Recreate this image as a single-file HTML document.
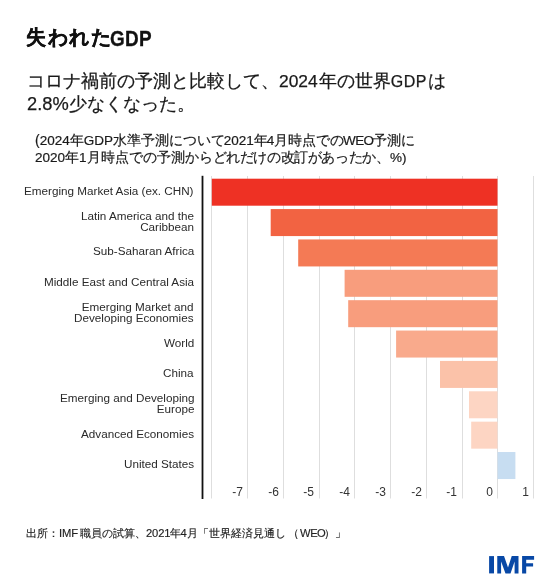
<!DOCTYPE html>
<html lang="ja">
<head>
<meta charset="utf-8">
<style>
html,body{margin:0;padding:0;background:#fff;}
body{width:560px;height:583px;position:relative;overflow:hidden;font-family:"Liberation Sans",sans-serif;color:#1a1a1a;}
.t{position:absolute;white-space:nowrap;will-change:transform;}
#title{left:26px;top:23px;font-size:20px;font-weight:bold;line-height:28px;color:#111;}
#title .j{letter-spacing:1.5px;-webkit-text-stroke:0.35px #111;}
#title .g{font-size:22px;display:inline-block;position:relative;top:1.5px;letter-spacing:0.3px;margin-left:-2px;transform:scaleX(0.86);transform-origin:0 50%;-webkit-text-stroke:0.3px #111}
#sub{left:27px;top:71px;font-size:18px;line-height:21.5px;color:#1a1a1a;-webkit-text-stroke:0.25px #1a1a1a;}
#sub .n1{font-size:17.4px;margin-right:1px}
#sub .n2{font-size:16px;letter-spacing:0.5px;margin-right:1.5px}
#sub .n3{font-size:18.3px;}
#note{left:35px;top:131.5px;font-size:14px;line-height:17.4px;color:#1a1a1a;-webkit-text-stroke:0.2px #1a1a1a;}
#note .l{font-size:13.5px}
#note .m{margin-left:-1.2px}
#note .p{margin-left:0.5px}
.lab{position:absolute;will-change:transform;right:366px;text-align:right;font-size:11.7px;line-height:11.3px;margin-top:-1.3px;color:#2a2a2a;white-space:nowrap;}
.tick{position:absolute;will-change:transform;font-size:12px;line-height:14px;color:#333;text-align:right;width:30px;}
#src{left:26px;top:525px;font-size:11.25px;line-height:16px;color:#222;-webkit-text-stroke:0.15px #222;}
#src .l{font-size:11.2px;letter-spacing:-0.1px}
</style>
</head>
<body>
<div class="t" id="title"><span class="j">失われた</span><span class="g">GDP</span></div>
<div class="t" id="sub">コロナ禍前の予測と比較して、<span class="n1">2024</span>年の世界<span class="n2">GDP</span>は<br><span class="n3">2.8%</span>少なくなった。</div>
<div class="t" id="note">(<span class="l">2024</span>年<span class="l">GDP</span>水準予測について<span class="l m">2021</span>年<span class="l m">4</span>月時点での<span class="l m" style="letter-spacing:-0.6px">WEO</span>予測に<br><span class="l">2020</span>年<span class="l">1</span>月時点での予測から<span style="letter-spacing:-0.4px">どれだけの改訂があったか、</span><span class="l p">%)</span></div>

<svg width="560" height="583" style="position:absolute;left:0;top:0">
  <g stroke="#dedede" stroke-width="1">
    <line x1="211.5" y1="176" x2="211.5" y2="498.5"/>
    <line x1="247.5" y1="176" x2="247.5" y2="498.5"/>
    <line x1="283.5" y1="176" x2="283.5" y2="498.5"/>
    <line x1="319.5" y1="176" x2="319.5" y2="498.5"/>
    <line x1="354.5" y1="176" x2="354.5" y2="498.5"/>
    <line x1="390.5" y1="176" x2="390.5" y2="498.5"/>
    <line x1="426.5" y1="176" x2="426.5" y2="498.5"/>
    <line x1="462.5" y1="176" x2="462.5" y2="498.5"/>
    <line x1="497.5" y1="176" x2="497.5" y2="498.5"/>
    <line x1="533.5" y1="176" x2="533.5" y2="498.5"/>
  </g>
  <rect x="211.8" y="178.7" width="285.7" height="27" fill="#ee3124"/>
  <rect x="270.7" y="209.07" width="226.8" height="27" fill="#f26342"/>
  <rect x="298.2" y="239.44" width="199.3" height="27" fill="#f47a55"/>
  <rect x="344.6" y="269.81" width="152.9" height="27" fill="#f89d7d"/>
  <rect x="348.2" y="300.18" width="149.3" height="27" fill="#f89d7d"/>
  <rect x="396.1" y="330.55" width="101.4" height="27" fill="#f9aa8c"/>
  <rect x="440" y="360.92" width="57.5" height="27" fill="#fbc2a9"/>
  <rect x="469" y="391.29" width="28.5" height="27" fill="#fdd5c3"/>
  <rect x="471.2" y="421.66" width="26.3" height="27" fill="#fdd5c3"/>
  <rect x="497.5" y="452.03" width="17.9" height="27" fill="#c7ddf1"/>
  <rect x="201.6" y="175.8" width="1.8" height="323.2" fill="#111"/>
  <g fill="#0848a6">
    <rect x="489.1" y="556.1" width="4.9" height="17.3"/>
    <polygon points="497.25,573.4 497.25,556.1 504,556.1 508,567.6 511.75,556.1 518.5,556.1 518.5,573.4 514.6,573.4 514.6,561.5 510.5,573.4 505.5,573.4 501.1,561.5 501.1,573.4"/>
    <polygon points="522.1,573.4 522.1,556.1 534.1,556.1 534.1,559.7 526.2,559.7 526.2,563.2 533.1,563.2 533.1,566.6 526.2,566.6 526.2,573.4"/>
  </g>
</svg>

<div class="lab" style="top:186px">Emerging Market Asia (ex. CHN)</div>
<div class="lab" style="top:211px">Latin America and the<br>Caribbean</div>
<div class="lab" style="top:246px">Sub-Saharan Africa</div>
<div class="lab" style="top:277px">Middle East and Central Asia</div>
<div class="lab" style="top:302px">Emerging Market and<br>Developing Economies</div>
<div class="lab" style="top:338px">World</div>
<div class="lab" style="top:368px">China</div>
<div class="lab" style="top:393px">Emerging and Developing<br>Europe</div>
<div class="lab" style="top:429px">Advanced Economies</div>
<div class="lab" style="top:459px">United States</div>

<div class="tick" style="left:213px;top:485.3px">-7</div>
<div class="tick" style="left:248.5px;top:485.3px">-6</div>
<div class="tick" style="left:284px;top:485.3px">-5</div>
<div class="tick" style="left:320px;top:485.3px">-4</div>
<div class="tick" style="left:356px;top:485.3px">-3</div>
<div class="tick" style="left:391.5px;top:485.3px">-2</div>
<div class="tick" style="left:427px;top:485.3px">-1</div>
<div class="tick" style="left:463px;top:485.3px">0</div>
<div class="tick" style="left:499px;top:485.3px">1</div>

<div class="t" id="src">出所：<span class="l" style="margin-right:2px">IMF</span>職員の試算、<span class="l">2021</span>年<span class="l" style="margin-left:-1px;margin-right:0.5px">4</span>月「世界経済見通し<span style="margin-left:2px">（</span><span class="l" style="margin-left:1px;letter-spacing:-0.5px;margin-right:-1px">WEO</span>）」</div>
</body>
</html>
